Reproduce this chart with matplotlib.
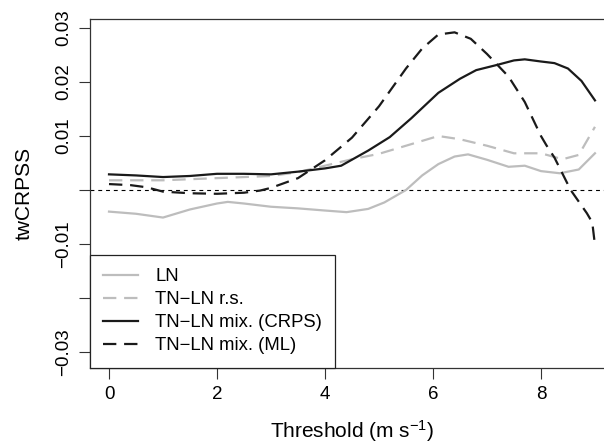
import numpy as np
import matplotlib
matplotlib.use("Agg")
import matplotlib.pyplot as plt

plt.rcParams['font.family'] = ['Liberation Sans', 'DejaVu Sans']
plt.rcParams['mathtext.default'] = 'regular'

# valori
x_ln = [0, 0.5, 1.0, 1.5, 2.0, 2.2, 2.5, 3.0, 3.5, 4.0, 4.4, 4.8, 5.1, 5.5,
        5.8, 6.1, 6.4, 6.65, 7.0, 7.4, 7.7, 8.0, 8.35, 8.7, 9.0]
y_ln = [-0.0040, -0.0044, -0.0051, -0.0036, -0.0025, -0.0022, -0.0025, -0.0031,
        -0.0034, -0.0038, -0.0041, -0.0035, -0.0023, 0.0000, 0.0027, 0.0048,
        0.0062, 0.0066, 0.0056, 0.0043, 0.0045, 0.0035, 0.0031, 0.0038, 0.0068]

x_rs = [0, 1, 2, 3, 3.5, 4, 4.5, 5, 5.5, 6.1, 6.5, 7.0, 7.5, 8.0, 8.4, 8.7, 9.0]
y_rs = [0.0018, 0.0018, 0.0022, 0.0026, 0.0033, 0.0045, 0.0057, 0.0067, 0.0082,
        0.0100, 0.0094, 0.0082, 0.0068, 0.0068, 0.0057, 0.0065, 0.0117]

x_crps = [0, 0.5, 1, 1.5, 2, 2.5, 3, 3.5, 4, 4.3, 4.8, 5.2, 5.6, 6.1, 6.5, 6.8,
          7.2, 7.5, 7.7, 8.0, 8.25, 8.5, 8.75, 9.0]
y_crps = [0.0029, 0.0027, 0.0024, 0.0026, 0.0030, 0.0030, 0.0029, 0.0034, 0.0040,
          0.0045, 0.0073, 0.0098, 0.0133, 0.0180, 0.0206, 0.0222, 0.0232, 0.0240,
          0.0242, 0.0238, 0.0235, 0.0225, 0.0202, 0.0166]

x_ml = [0, 0.4, 0.7, 1.0, 1.5, 2.0, 2.5, 2.8, 3.0, 3.5, 4.0, 4.5, 5.0, 5.5, 5.8,
        6.1, 6.4, 6.7, 7.0, 7.4, 7.7, 8.0, 8.1, 8.25, 8.55, 8.85, 8.95, 9.0]
y_ml = [0.0011, 0.0009, 0.0005, -0.0003, -0.0006, -0.0007, -0.0005, -0.0001,
        0.0004, 0.0022, 0.0055, 0.0097, 0.0155, 0.0225, 0.0262, 0.0288, 0.0292,
        0.0280, 0.0252, 0.0210, 0.0163, 0.0100, 0.0083, 0.0060, 0.0000, -0.0043,
        -0.0060, -0.0102]

labels = ["LN", "TN\u2212LN r.s.", "TN\u2212LN mix. (CRPS)", "TN\u2212LN mix. (ML)"]

x_ticks = [0, 2, 4, 6, 8]
y_ticks = [-0.03, -0.02, -0.01, 0, 0.01, 0.02, 0.03]
y_ticklabels = ["\u22120.03", "", "\u22120.01", "", "0.01", "0.02", "0.03"]

grey = '#bdbdbd'
black = '#1a1a1a'

fig = plt.figure(figsize=(6.04, 4.44), dpi=100)
# il box a destra esce dall'immagine come nell'originale
ax = fig.add_axes([90 / 604, 76.5 / 444, 524.4 / 604, 348.5 / 444])

ax.axhline(0, color='black', lw=0.8, ls=(0, (3.5, 3.5)))
ax.plot(x_ln, y_ln, color=grey, lw=1.6, label=labels[0])
ax.plot(x_rs, y_rs, color=grey, lw=1.6, ls=(0, (6, 3.5)), label=labels[1])
ax.plot(x_crps, y_crps, color=black, lw=1.6, label=labels[2])
ax.plot(x_ml, y_ml, color=black, lw=1.6, ls=(0, (6, 3.5)), label=labels[3])

ax.set_xlim(-0.352, 9.36)
ax.set_ylim(-0.03287, 0.03167)
ax.set_xticks(x_ticks)
ax.set_yticks(y_ticks)
ax.set_yticklabels(y_ticklabels)

ax.tick_params(axis='both', direction='out', length=8, width=0.8, color='#333333',
               labelsize=13.5, pad=5)
ax.tick_params(axis='y', labelrotation=90)
for lab in ax.get_yticklabels():
    lab.set_va('center')

for s in ax.spines.values():
    s.set_linewidth(0.9)
    s.set_color('#333333')

ax.set_xlabel("Threshold (m s$^{-1}$)", fontsize=15)
ax.set_ylabel("twCRPSS", fontsize=15)
ax.xaxis.set_label_coords(0.5, -0.145)
ax.yaxis.set_label_coords(-0.108, 0.5)

leg = ax.legend(loc='lower left', bbox_to_anchor=(0, 0), borderaxespad=0,
                fontsize=13.3, frameon=True, fancybox=False, framealpha=1,
                edgecolor='#222222', handlelength=1.9, handletextpad=0.9,
                labelspacing=0.32, borderpad=0.72)
leg.get_frame().set_linewidth(0.9)

fig.savefig("out.png", dpi=100)
